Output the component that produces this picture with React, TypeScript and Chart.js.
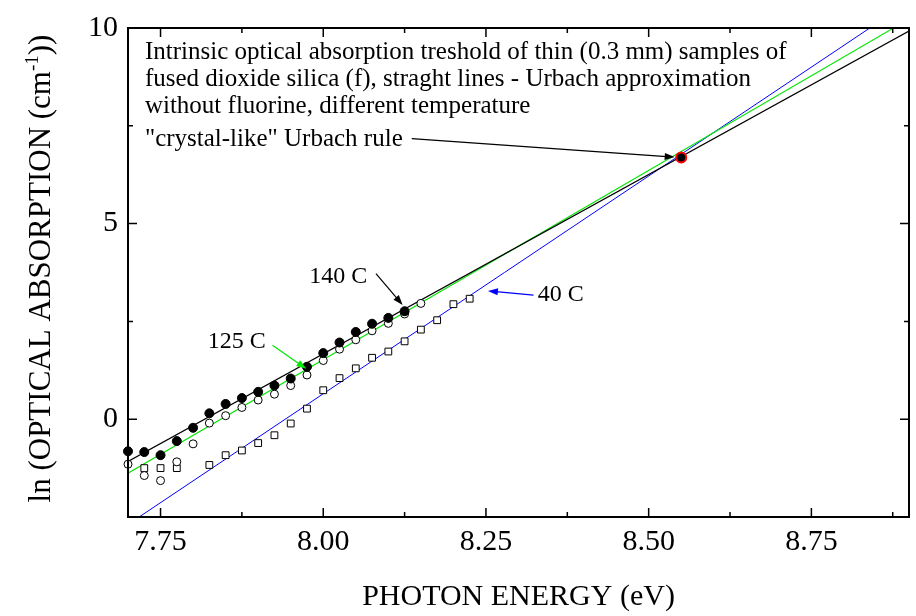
import React, { useEffect, useRef } from "react";
import { Chart, registerables } from "chart.js";

Chart.register(...registerables);

// ---- data ----
const energy140 = [7.7, 7.725, 7.75, 7.775, 7.8, 7.825, 7.85, 7.875, 7.9, 7.925, 7.95, 7.975, 8.0, 8.025, 8.05, 8.075, 8.1, 8.125];
const lnAbs140 = [-0.82, -0.84, -0.92, -0.56, -0.22, 0.15, 0.39, 0.54, 0.7, 0.86, 1.04, 1.34, 1.69, 1.96, 2.23, 2.44, 2.59, 2.76];

const energy125 = [7.7, 7.725, 7.75, 7.775, 7.8, 7.825, 7.85, 7.875, 7.9, 7.925, 7.95, 7.975, 8.0, 8.025, 8.05, 8.075, 8.1, 8.125, 8.15];
const lnAbs125 = [-1.15, -1.44, -1.57, -1.09, -0.63, -0.1, 0.09, 0.3, 0.49, 0.64, 0.86, 1.13, 1.5, 1.79, 2.03, 2.26, 2.45, 2.69, 2.96];

const energy40 = [7.725, 7.75, 7.775, 7.825, 7.85, 7.875, 7.9, 7.925, 7.95, 7.975, 8.0, 8.025, 8.05, 8.075, 8.1, 8.125, 8.15, 8.175, 8.2, 8.225];
const lnAbs40 = [-1.25, -1.25, -1.25, -1.17, -0.92, -0.8, -0.61, -0.41, -0.11, 0.27, 0.74, 1.05, 1.3, 1.57, 1.73, 1.99, 2.29, 2.53, 2.94, 3.08];

// Urbach straight lines (end points read at the plot edges)
const fitEnergy = [7.7, 8.9];
const fit140 = [-1.08, 9.92];
const fit125 = [-1.38, 10.23];
const fit40 = [-2.69, 10.67];

// common "crystal-like" point
const crossEnergy = [8.55];
const crossLnAbs = [6.69];

// axes
const xRange = [7.7, 8.9];
const yRange = [-2.5, 10];
const xTickValues = [7.75, 8.0, 8.25, 8.5, 8.75];
const xMinorValues = [7.875, 8.125, 8.375, 8.625, 8.875];
const yTickValues = [0, 5, 10];
const yMinorValues = [-2.5, 2.5, 7.5];

// texts
const xTitle = "PHOTON ENERGY (eV)";
const yTitleMain = "ln (OPTICAL ABSORPTION (cm";
const yTitleSup = "-1";
const yTitleEnd = "))";
const noteLines = [
  "Intrinsic optical absorption treshold of thin (0.3 mm) samples of",
  "fused dioxide silica (f), straght lines - Urbach approximation",
  "without fluorine, different temperature",
];
const ruleLabel = '"crystal-like" Urbach rule';
const label140 = "140 C";
const label125 = "125 C";
const label40 = "40 C";

// ---- styles / annotation placement ----
const FONT = "'Liberation Serif', 'Times New Roman', serif";
const GREEN = "#00e600";
const BLUE = "#0000ff";
const NOTE = { x: 7.726, y: 9.2, step: 27, size: 25 };
const RULE_AT = [7.726, 6.98];
const ARROWS = [
  { from: [8.136, 7.17], to: [8.54, 6.7], color: "#000000" },
  { from: [8.081, 3.72], to: [8.122, 2.92], color: "#000000" },
  { from: [7.922, 1.89], to: [7.974, 1.29], color: GREEN },
  { from: [8.323, 3.17], to: [8.253, 3.28], color: BLUE },
];
const LABELS = [
  { text: label140, at: [8.023, 3.65] },
  { text: label125, at: [7.867, 1.99] },
  { text: label40, at: [8.365, 3.17] },
];

const toXY = (xs: number[], ys: number[]) => xs.map((x, i) => ({ x, y: ys[i] }));

function drawArrow(ctx: CanvasRenderingContext2D, x1: number, y1: number, x2: number, y2: number, color: string) {
  const ang = Math.atan2(y2 - y1, x2 - x1);
  const len = 10;
  const half = 3.5;
  ctx.save();
  ctx.strokeStyle = color;
  ctx.fillStyle = color;
  ctx.lineWidth = 1.2;
  ctx.beginPath();
  ctx.moveTo(x1, y1);
  ctx.lineTo(x2 - Math.cos(ang) * len * 0.8, y2 - Math.sin(ang) * len * 0.8);
  ctx.stroke();
  ctx.beginPath();
  ctx.moveTo(x2, y2);
  ctx.lineTo(x2 - Math.cos(ang) * len - Math.sin(ang) * half, y2 - Math.sin(ang) * len + Math.cos(ang) * half);
  ctx.lineTo(x2 - Math.cos(ang) * len + Math.sin(ang) * half, y2 - Math.sin(ang) * len - Math.cos(ang) * half);
  ctx.closePath();
  ctx.fill();
  ctx.restore();
}

const framePlugin = {
  id: "frameAndNotes",
  afterDraw(chart: any) {
    const { ctx, chartArea: a, scales } = chart;
    const xs = scales.x;
    const ys = scales.y;
    ctx.save();
    // frame
    ctx.strokeStyle = "#000";
    ctx.lineWidth = 2;
    ctx.strokeRect(a.left, a.top, a.right - a.left, a.bottom - a.top);
    // inward ticks
    ctx.lineWidth = 1.5;
    const major = 9;
    const minor = 5;
    ctx.beginPath();
    const xt = (v: number, l: number) => {
      const p = xs.getPixelForValue(v);
      ctx.moveTo(p, a.bottom);
      ctx.lineTo(p, a.bottom - l);
      ctx.moveTo(p, a.top);
      ctx.lineTo(p, a.top + l);
    };
    const yt = (v: number, l: number) => {
      const p = ys.getPixelForValue(v);
      ctx.moveTo(a.left, p);
      ctx.lineTo(a.left + l, p);
      ctx.moveTo(a.right, p);
      ctx.lineTo(a.right - l, p);
    };
    xTickValues.forEach((v) => xt(v, major));
    xMinorValues.forEach((v) => xt(v, minor));
    yTickValues.forEach((v) => yt(v, major));
    yMinorValues.forEach((v) => yt(v, minor));
    ctx.stroke();

    // y title with superscript
    const cy = (a.top + a.bottom) / 2 - 4;
    ctx.translate(50, cy);
    ctx.rotate(-Math.PI / 2);
    ctx.fillStyle = "#000";
    ctx.textBaseline = "alphabetic";
    ctx.textAlign = "left";
    const big = `31px ${FONT}`;
    const small = `19px ${FONT}`;
    ctx.font = big;
    const w1 = ctx.measureText(yTitleMain).width;
    const w3 = ctx.measureText(yTitleEnd).width;
    ctx.font = small;
    const w2 = ctx.measureText(yTitleSup).width;
    let sx = -(w1 + w2 + w3) / 2;
    ctx.font = big;
    ctx.fillText(yTitleMain, sx, 0);
    sx += w1;
    ctx.font = small;
    ctx.fillText(yTitleSup, sx, -12);
    sx += w2;
    ctx.font = big;
    ctx.fillText(yTitleEnd, sx, 0);
    ctx.restore();

    // note text
    ctx.save();
    ctx.fillStyle = "#000";
    ctx.font = `${NOTE.size}px ${FONT}`;
    ctx.textAlign = "left";
    ctx.textBaseline = "alphabetic";
    const nx = xs.getPixelForValue(NOTE.x);
    const ny = ys.getPixelForValue(NOTE.y);
    noteLines.forEach((t, i) => ctx.fillText(t, nx, ny + i * NOTE.step));
    ctx.fillText(ruleLabel, xs.getPixelForValue(RULE_AT[0]), ys.getPixelForValue(RULE_AT[1]));
    // labels
    ctx.font = `24px ${FONT}`;
    ctx.textAlign = "center";
    ctx.textBaseline = "middle";
    LABELS.forEach((l) => ctx.fillText(l.text, xs.getPixelForValue(l.at[0]), ys.getPixelForValue(l.at[1])));
    ctx.restore();
    // arrows
    ARROWS.forEach((ar) =>
      drawArrow(
        ctx,
        xs.getPixelForValue(ar.from[0]),
        ys.getPixelForValue(ar.from[1]),
        xs.getPixelForValue(ar.to[0]),
        ys.getPixelForValue(ar.to[1]),
        ar.color
      )
    );
  },
};

export default function App() {
  const ref = useRef<HTMLCanvasElement | null>(null);
  useEffect(() => {
    if (!ref.current) return;
    const lineDs = (data: any, color: string, width: number) => ({
      type: "line" as const,
      data,
      borderColor: color,
      borderWidth: width,
      pointRadius: 0,
      showLine: true,
      fill: false,
      clip: 0,
    });
    const chart = new Chart(ref.current, {
      type: "scatter",
      data: {
        datasets: [
          {
            data: toXY(crossEnergy, crossLnAbs),
            pointRadius: 5,
            pointBackgroundColor: "#000",
            pointBorderColor: "#ff0000",
            pointBorderWidth: 2,
            clip: false,
          } as any,
          {
            data: toXY(energy140, lnAbs140),
            pointRadius: 4.5,
            pointBackgroundColor: "#000",
            pointBorderColor: "#000",
            pointBorderWidth: 1,
            clip: false,
          },
          {
            data: toXY(energy125, lnAbs125),
            pointRadius: 4,
            pointBackgroundColor: "#fff",
            pointBorderColor: "#000",
            pointBorderWidth: 1,
            clip: false,
          },
          {
            data: toXY(energy40, lnAbs40),
            pointStyle: "rect",
            pointRadius: 4.8,
            pointBackgroundColor: "#fff",
            pointBorderColor: "#000",
            pointBorderWidth: 1,
            clip: false,
          },
          lineDs(toXY(fitEnergy, fit140), "#000000", 1.3),
          lineDs(toXY(fitEnergy, fit125), GREEN, 1.1),
          lineDs(toXY(fitEnergy, fit40), BLUE, 1.0),
        ] as any,
      },
      options: {
        animation: false,
        responsive: false,
        devicePixelRatio: 1,
        layout: { padding: { top: 20, right: 3.5, left: 0, bottom: 0 } },
        plugins: { legend: { display: false }, tooltip: { enabled: false } },
        scales: {
          x: {
            type: "linear",
            min: xRange[0],
            max: xRange[1],
            grid: { display: false, drawTicks: false },
            border: { display: false },
            afterBuildTicks: (s: any) => {
              s.ticks = xTickValues.map((value) => ({ value }));
            },
            afterFit: (s: any) => {
              s.height = 99;
            },
            ticks: {
              autoSkip: false,
              maxRotation: 0,
              padding: 7,
              color: "#000",
              font: { family: FONT, size: 30 },
              callback: (v: any) => Number(v).toFixed(2),
            },
            title: {
              display: true,
              text: xTitle,
              color: "#000",
              font: { family: FONT, size: 30 },
              padding: { top: 0, bottom: 1 },
            },
          },
          y: {
            type: "linear",
            min: yRange[0],
            max: yRange[1],
            grid: { display: false, drawTicks: false },
            border: { display: false },
            afterBuildTicks: (s: any) => {
              s.ticks = yTickValues.map((value) => ({ value }));
            },
            afterFit: (s: any) => {
              s.width = 128;
            },
            ticks: {
              padding: 10,
              color: "#000",
              font: { family: FONT, size: 30 },
              callback: (v: any) => String(v),
            },
          },
        },
      },
      plugins: [framePlugin],
    });
    return () => chart.destroy();
  }, []);
  return (
    <div style={{ position: "absolute", left: 0, top: 0, width: 916, height: 616, background: "#fff" }}>
      <canvas ref={ref} width={916} height={616} style={{ display: "block" }} />
    </div>
  );
}
